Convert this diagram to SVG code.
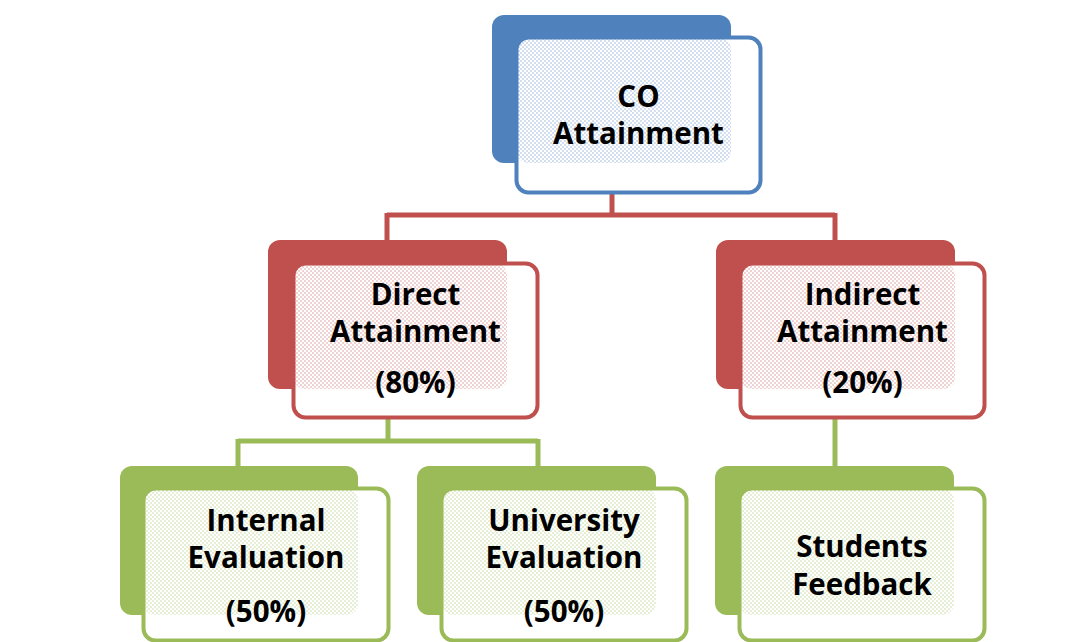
<svg xmlns="http://www.w3.org/2000/svg" width="1078" height="642" viewBox="0 0 1078 642">
  <defs>
    <pattern id="pb" width="4" height="4" patternUnits="userSpaceOnUse">
      <rect width="4" height="4" fill="#ffffff"/>
      <rect x="0" y="0" width="2" height="2" fill="#4F81BD" fill-opacity="0.25"/>
      <rect x="2" y="2" width="2" height="2" fill="#4F81BD" fill-opacity="0.25"/>
    </pattern>
    <pattern id="pr" width="4" height="4" patternUnits="userSpaceOnUse">
      <rect width="4" height="4" fill="#ffffff"/>
      <rect x="0" y="0" width="2" height="2" fill="#C0504D" fill-opacity="0.25"/>
      <rect x="2" y="2" width="2" height="2" fill="#C0504D" fill-opacity="0.25"/>
    </pattern>
    <pattern id="pg" width="4" height="4" patternUnits="userSpaceOnUse">
      <rect width="4" height="4" fill="#ffffff"/>
      <rect x="0" y="0" width="2" height="2" fill="#9BBB59" fill-opacity="0.25"/>
      <rect x="2" y="2" width="2" height="2" fill="#9BBB59" fill-opacity="0.25"/>
    </pattern>
  </defs>
  <style>
    .bg{fill:#ffffff}
    .back-b{fill:#4F81BD}
    .back-r{fill:#C0504D}
    .back-g{fill:#9BBB59}
    .front{fill:#ffffff}
    .edge-b{fill:none;stroke:#4F81BD;stroke-width:4}
    .edge-r{fill:none;stroke:#C0504D;stroke-width:4}
    .edge-g{fill:none;stroke:#9BBB59;stroke-width:4}
    .tex-b{fill:url(#pb)}
    .tex-r{fill:url(#pr)}
    .tex-g{fill:url(#pg)}
    .lbl{font-family:"Open Sans","Liberation Sans",sans-serif;font-weight:700;font-size:29.5px;fill:#000000;text-anchor:middle}
    .con-r{fill:none;stroke:#C0504D;stroke-width:5}
    .con-g{fill:none;stroke:#9BBB59;stroke-width:5}
  </style>
  <rect class="bg" x="0" y="0" width="1078" height="642"/>

  <g id="connectors">
    <path class="con-r" d="M612,194 V215 M387,215 H835 M387,213 V240 M835,213 V240"/>
    <path class="con-g" d="M388,419 V441 M238,441 H538 M238,439 V466 M538,439 V466"/>
    <path class="con-g" d="M835,419 V466"/>
  </g>

  <g id="node-co">
    <rect class="back-b" x="492" y="15" width="239" height="148" rx="12"/>
    <rect class="front" x="516.5" y="37.5" width="244" height="155" rx="12"/>
    <rect class="tex-b" x="516.5" y="37.5" width="214.5" height="125.5" rx="12"/>
    <rect class="edge-b" x="516.5" y="37.5" width="244" height="155" rx="12"/>
    <text class="lbl" x="638.5" y="107">CO</text>
    <text class="lbl" x="638.5" y="144">Attainment</text>
  </g>

  <g id="node-direct">
    <rect class="back-r" x="268" y="240" width="239" height="149" rx="12"/>
    <rect class="front" x="293.5" y="263.5" width="244" height="154" rx="12"/>
    <rect class="tex-r" x="293.5" y="263.5" width="213.5" height="125.5" rx="12"/>
    <rect class="edge-r" x="293.5" y="263.5" width="244" height="154" rx="12"/>
    <text class="lbl" x="415.5" y="305">Direct</text>
    <text class="lbl" x="415.5" y="342">Attainment</text>
    <text class="lbl" x="415.5" y="393">(80%)</text>
  </g>

  <g id="node-indirect">
    <rect class="back-r" x="716" y="240" width="239" height="149" rx="12"/>
    <rect class="front" x="740.5" y="263.5" width="244" height="154" rx="12"/>
    <rect class="tex-r" x="740.5" y="263.5" width="214.5" height="125.5" rx="12"/>
    <rect class="edge-r" x="740.5" y="263.5" width="244" height="154" rx="12"/>
    <text class="lbl" x="862.5" y="305">Indirect</text>
    <text class="lbl" x="862.5" y="342">Attainment</text>
    <text class="lbl" x="862.5" y="393">(20%)</text>
  </g>

  <g id="node-internal">
    <rect class="back-g" x="120" y="466" width="238" height="149" rx="12"/>
    <rect class="front" x="143.5" y="488.5" width="245" height="152" rx="12"/>
    <rect class="tex-g" x="143.5" y="488.5" width="214.5" height="126.5" rx="12"/>
    <rect class="edge-g" x="143.5" y="488.5" width="245" height="152" rx="12"/>
    <text class="lbl" x="266" y="531">Internal</text>
    <text class="lbl" x="266" y="568">Evaluation</text>
    <text class="lbl" x="266" y="622">(50%)</text>
  </g>

  <g id="node-university">
    <rect class="back-g" x="417" y="466" width="239" height="149" rx="12"/>
    <rect class="front" x="441.5" y="488.5" width="245" height="152" rx="12"/>
    <rect class="tex-g" x="441.5" y="488.5" width="214.5" height="126.5" rx="12"/>
    <rect class="edge-g" x="441.5" y="488.5" width="245" height="152" rx="12"/>
    <text class="lbl" x="564" y="531">University</text>
    <text class="lbl" x="564" y="568">Evaluation</text>
    <text class="lbl" x="564" y="622">(50%)</text>
  </g>

  <g id="node-students">
    <rect class="back-g" x="715" y="466" width="239" height="149" rx="12"/>
    <rect class="front" x="739.5" y="488.5" width="245" height="152" rx="12"/>
    <rect class="tex-g" x="739.5" y="488.5" width="214.5" height="126.5" rx="12"/>
    <rect class="edge-g" x="739.5" y="488.5" width="245" height="152" rx="12"/>
    <text class="lbl" x="862" y="557">Students</text>
    <text class="lbl" x="862" y="595">Feedback</text>
  </g>
</svg>
